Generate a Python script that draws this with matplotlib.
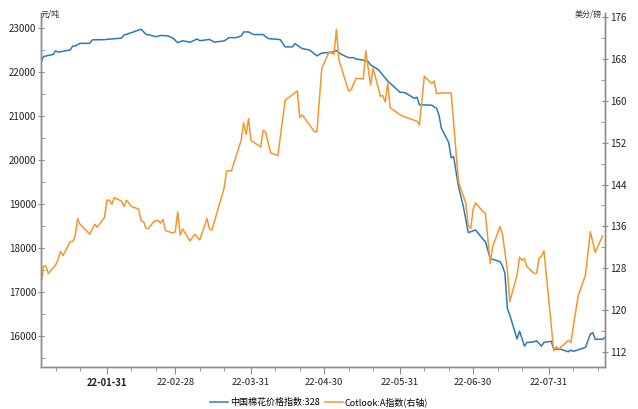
import matplotlib
matplotlib.use("Agg")
import matplotlib.pyplot as plt
import matplotlib.dates as mdates
import pandas as pd

plt.rcParams["font.family"] = ["Noto Sans CJK SC", "DejaVu Sans"]

# 中国棉花价格指数:328 (元/吨, left axis)
CC_DATES = ["01-04", "01-05", "01-09", "01-10", "01-11", "01-16", "01-17", "01-18",
            "01-20", "01-24", "01-25", "01-30", "02-06", "02-07", "02-08", "02-14",
            "02-16", "02-19", "02-20", "02-22", "02-25", "02-27", "03-01", "03-03",
            "03-06", "03-09", "03-10", "03-14", "03-16", "03-20", "03-22", "03-25",
            "03-27", "03-28", "03-30", "04-01", "04-05", "04-07", "04-12", "04-14",
            "04-17", "04-18", "04-21", "04-24", "04-27", "04-29", "05-03", "05-05",
            "05-07", "05-10", "05-12", "05-13", "05-16", "05-18", "05-19", "05-22",
            "05-24", "05-26", "05-31", "06-02", "06-06", "06-07", "06-08", "06-13",
            "06-15", "06-16", "06-17", "06-20", "06-21", "06-22", "06-24", "06-26",
            "06-28", "07-01", "07-04", "07-05", "07-07", "07-11", "07-12", "07-13",
            "07-14", "07-15", "07-18", "07-19", "07-21", "07-22", "07-25", "07-26",
            "07-28", "07-29", "08-01", "08-02", "08-05", "08-08", "08-09", "08-10",
            "08-15", "08-17", "08-18", "08-19", "08-22", "08-23"]
CC_VALUES = [22220, 22350, 22400, 22480, 22450, 22500, 22590, 22590,
             22650, 22650, 22730, 22735, 22770, 22840, 22855, 22970,
             22855, 22820, 22800, 22830, 22820, 22770, 22665, 22710,
             22675, 22750, 22710, 22740, 22680, 22705, 22780, 22780,
             22820, 22910, 22910, 22850, 22850, 22760, 22735, 22570,
             22570, 22645, 22530, 22500, 22365, 22430, 22445, 22485,
             22400, 22325, 22325, 22295, 22270, 22235, 22160, 22060,
             21930, 21795, 21540, 21530, 21400, 21425, 21255, 21245,
             21175, 21020, 20720, 20395, 20050, 20075, 19395, 18940,
             18350, 18410, 18200, 18145, 17760, 17690, 17590, 17425,
             16630, 16475, 15930, 16110, 15770, 15850, 15870, 15890,
             15770, 15855, 15880, 15700, 15697, 15640, 15680, 15650,
             15740, 16045, 16075, 15925, 15925, 15970]

# Cotlook:A指数 (美分/磅, right axis)
A_DATES = ["01-04", "01-05", "01-06", "01-07", "01-10", "01-11", "01-12", "01-13",
           "01-16", "01-17", "01-18", "01-19", "01-20", "01-24", "01-26", "01-27",
           "01-30", "01-31", "02-01", "02-02", "02-03", "02-06", "02-07", "02-08",
           "02-10", "02-13", "02-14", "02-15", "02-16", "02-17", "02-19", "02-20",
           "02-21", "02-22", "02-23", "02-24", "02-27", "02-28", "03-01", "03-02",
           "03-03", "03-06", "03-08", "03-10", "03-13", "03-14", "03-15", "03-17",
           "03-20", "03-21", "03-23", "03-27", "03-28", "03-29", "03-30", "03-31",
           "04-04", "04-05", "04-06", "04-08", "04-11", "04-14", "04-19", "04-20",
           "04-21", "04-26", "04-27", "04-29", "05-02", "05-04", "05-05", "05-06",
           "05-10", "05-11", "05-13", "05-16", "05-17", "05-19", "05-20", "05-23",
           "05-24", "05-25", "05-26", "05-27", "05-30", "06-01", "06-07", "06-08",
           "06-10", "06-13", "06-14", "06-15", "06-17", "06-21", "06-24", "06-27",
           "06-28", "06-29", "06-30", "07-01", "07-04", "07-05", "07-07", "07-08",
           "07-11", "07-12", "07-14", "07-15", "07-18", "07-19", "07-20", "07-21",
           "07-22", "07-25", "07-26", "07-27", "07-28", "07-29", "08-02", "08-03",
           "08-04", "08-08", "08-09", "08-12", "08-15", "08-17", "08-19", "08-22"]
A_VALUES = [124.8, 128.4, 128.4, 127.0, 128.6, 129.7, 131.2, 130.4,
            133.1, 133.1, 134.2, 137.5, 136.4, 134.5, 136.4, 135.8,
            137.7, 141.0, 141.0, 140.2, 141.5, 140.8, 139.8, 141.0,
            139.8, 139.3, 137.0, 136.9, 135.6, 135.6, 136.8, 137.1,
            137.1, 136.6, 137.3, 135.2, 134.7, 135.0, 138.8, 134.3,
            135.5, 133.2, 134.5, 133.4, 137.5, 135.5, 135.3, 138.5,
            143.3, 146.6, 146.6, 152.5, 155.8, 153.6, 156.6, 152.4,
            151.2, 154.4, 154.0, 150.1, 149.5, 160.1, 161.9, 156.8,
            157.3, 154.1, 154.1, 166.2, 169.4, 168.9, 173.7, 167.8,
            161.9, 162.1, 164.3, 164.2, 169.6, 163.0, 166.3, 160.9,
            161.0, 159.8, 163.4, 158.7, 157.7, 157.1, 156.1, 155.4,
            164.7, 163.3, 163.8, 161.4, 161.5, 161.5, 144.5, 140.4,
            136.1, 135.6, 139.3, 140.5, 138.8, 138.5, 128.9, 132.1,
            136.0, 134.5, 127.7, 121.6, 126.7, 130.1, 129.5, 129.8,
            128.3, 127.0, 127.0, 129.9, 130.3, 131.3, 112.2, 113.0,
            112.5, 114.2, 113.8, 122.7, 126.7, 135.0, 131.0, 134.2]

TICK_DATES = ["01-31", "02-28", "03-31", "04-30", "05-31", "06-30", "07-31"]
LEFT_TICKS = [16000, 17000, 18000, 19000, 20000, 21000, 22000, 23000]
RIGHT_TICKS = [112, 120, 128, 136, 144, 152, 160, 168, 176]

BLUE = "#2b7bb6"
ORANGE = "#f7962a"
GREY = "#8c8c8c"


def to_dt(days):
    return pd.to_datetime(["2022-" + d for d in days])


fig = plt.figure(figsize=(6.38, 4.09), dpi=100)
ax = fig.add_axes([41 / 638, 1 - 367 / 409, 564 / 638, 354 / 409])
ax2 = ax.twinx()

l1, = ax.plot(to_dt(CC_DATES), CC_VALUES, color=BLUE, lw=1.1)
l2, = ax2.plot(to_dt(A_DATES), A_VALUES, color=ORANGE, lw=1.1)

ax.set_yticks(LEFT_TICKS)
ax.set_yticks([v - 500 for v in LEFT_TICKS], minor=True)
ax2.set_yticks(RIGHT_TICKS)
ax2.set_yticks([v - 4 for v in RIGHT_TICKS], minor=True)

# limits after ticks, otherwise set_yticks widens the view
ax.set_xlim(pd.Timestamp("2022-01-04"), pd.Timestamp("2022-08-23"))
ax.set_ylim(15295, 23340)
ax2.set_ylim(109.1, 176.8)

xt = to_dt(TICK_DATES)
ax.set_xticks(xt)
ax.set_xticklabels(["22-" + d for d in TICK_DATES])
ax.xaxis.set_minor_locator(mdates.MonthLocator(bymonthday=[10, 20]))
ax.get_xticklabels()[0].set_fontweight("bold")

for a in (ax, ax2):
    for s in a.spines.values():
        s.set_color(GREY)
        s.set_linewidth(1.0)
    a.spines["top"].set_visible(False)
    a.tick_params(axis="y", which="major", direction="inout", length=5,
                  color=GREY, labelsize=7, pad=1, labelcolor="#222222")
    a.tick_params(axis="y", which="minor", direction="in", length=3, color=GREY)
ax.tick_params(axis="x", which="major", direction="out", length=5, color=GREY,
               labelsize=6.8, pad=3, labelcolor="#222222")
ax.tick_params(axis="x", which="minor", direction="out", length=3, color=GREY)

fig.text(41 / 638, 1 - 14 / 409, "元/吨", fontsize=5.8, ha="left", va="center",
         color="#333333")
fig.text(602 / 638, 1 - 14 / 409, "美分/磅", fontsize=5.8, ha="right", va="center",
         color="#333333")

fig.legend([l1, l2], ["中国棉花价格指数:328", "Cotlook:A指数(右轴)"],
           loc="center", bbox_to_anchor=(0.5, 1 - 402 / 409), ncol=2,
           frameon=False, fontsize=6.5, handlelength=2.0, columnspacing=0.6,
           handletextpad=0.2)

fig.savefig("out.png", dpi=100)
